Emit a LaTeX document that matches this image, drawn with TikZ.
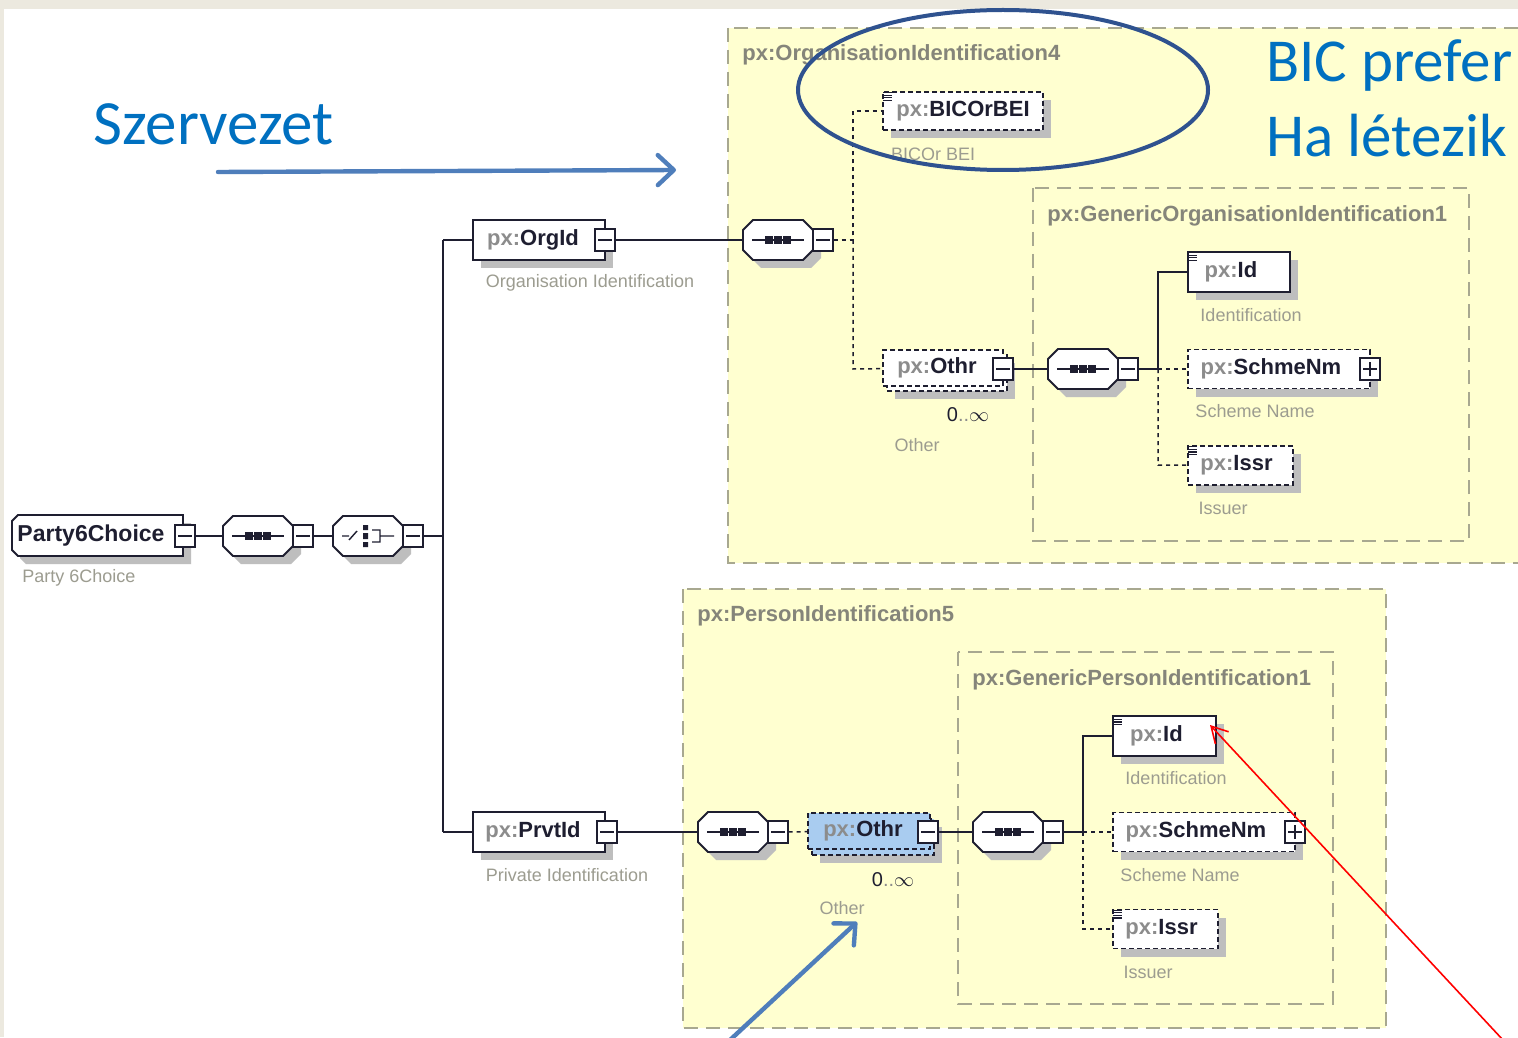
\documentclass[tikz,border=0pt]{standalone}
\usepackage{fontspec}
\setmainfont{Liberation Sans}
\newfontfamily\calib{Carlito}
\usetikzlibrary{shadows,arrows.meta}
\definecolor{bgbeige}{HTML}{ECE9DF}
\definecolor{grpyellow}{HTML}{FFFFD0}
\definecolor{grpline}{HTML}{A8A890}
\definecolor{grptext}{HTML}{85857A}
\definecolor{pxgray}{HTML}{8C8C8C}
\definecolor{namedark}{HTML}{1E1E30}
\definecolor{descgray}{HTML}{9C9C90}
\definecolor{shadowgray}{HTML}{BEBEBE}
\definecolor{annoblue}{HTML}{0070C0}
\definecolor{arrowblue}{HTML}{4F7EBB}
\definecolor{ellblue}{HTML}{2F528F}
\definecolor{selblue}{HTML}{A9CCF0}
\newcommand\pxn[1]{{\color{pxgray}px:}{\color{namedark}#1}}
\newcommand\mult{{\color{namedark}0}{\color{pxgray}..}{\color{namedark}$\infty$}}
\tikzset{
 x=0.5pt,y=-0.5pt,
 sh/.style={drop shadow={shadow xshift=4pt,shadow yshift=-4pt,fill=shadowgray,opacity=1}},
 elem/.style={draw=namedark,line width=0.9pt,fill=white,rectangle,inner sep=0pt,
   minimum height=20pt,font=\fontsize{11}{13}\selectfont\bfseries},
 optelem/.style={elem,dash pattern=on 2.5pt off 1.5pt},
 seqbox/.style={rectangle,draw=none,minimum width=35pt,minimum height=20pt,inner sep=0pt},
 octline/.style={draw=namedark,line width=0.9pt,fill=white},
 mbox/.style={draw=namedark,fill=white,line width=0.7pt,minimum width=10pt,minimum height=11pt,inner sep=0pt,
   path picture={\draw[line width=0.6pt,namedark] ([xshift=-3.5pt]path picture bounding box.center) -- ([xshift=3.5pt]path picture bounding box.center);}},
 pbox/.style={mbox,
   path picture={\draw[line width=0.6pt,namedark] ([xshift=-3.5pt]path picture bounding box.center) -- ([xshift=3.5pt]path picture bounding box.center)
     ([yshift=-3.5pt]path picture bounding box.center) -- ([yshift=3.5pt]path picture bounding box.center);}},
 conn/.style={draw=namedark,line width=0.75pt},
 dconn/.style={draw=namedark,line width=0.75pt,dash pattern=on 2pt off 2pt},
 grp/.style={draw=grpline,fill=grpyellow,line width=0.7pt,dash pattern=on 7pt off 4pt},
 grplabel/.style={anchor=west,inner sep=0pt,text=grptext,font=\fontsize{11}{13}\selectfont\bfseries},
 desc/.style={inner sep=0pt,text=descgray,font=\fontsize{9}{11}\selectfont},
 multl/.style={inner sep=0pt,font=\fontsize{10}{12}\selectfont},
 anno/.style={anchor=base west,inner sep=0pt,text=annoblue,font=\calib\fontsize{30.5}{36}\selectfont},
 bluearrow/.style={draw=arrowblue,line width=2.2pt,line cap=round,-{Straight Barb[length=8pt,width=15pt,line cap=round,line join=round]}},
}
\newcommand\octpath{(-35,-10) -- (-25,-20) -- (25,-20) -- (35,-10) -- (35,10) -- (25,20) -- (-25,20) -- (-35,10) -- cycle}
\newcommand\seqshape[3]{%
 \node[seqbox] (#1) at (#2,#3) {};
 \begin{scope}[shift={(#2,#3)}]
  \fill[shadowgray,shift={(8,8)}] \octpath;
  \path[octline] \octpath;
 \end{scope}}
\newcommand\seqicon[1]{%
 \draw[line width=0.7pt,namedark] ([xshift=-13pt]#1.center) -- ([xshift=13pt]#1.center);
 \foreach \dx in {-4.5,0,4.5} \fill[namedark] ([xshift=\dx pt]#1.center) +(-1.8pt,-1.8pt) rectangle +(1.8pt,1.8pt);
}
\newcommand\docicon[1]{%
 \draw[line width=0.6pt,namedark] ([xshift=0.5pt,yshift=-0.8pt]#1.north west) -- +(4.5pt,0pt)
   ([xshift=0.5pt,yshift=-2.1pt]#1.north west) -- +(4.5pt,0pt)
   ([xshift=0.5pt,yshift=-3.4pt]#1.north west) -- +(4.5pt,0pt)
   ([xshift=0.5pt,yshift=-4.7pt]#1.north west) -- +(4.5pt,0pt);
}
\begin{document}
\begin{tikzpicture}
\useasboundingbox (0,0) rectangle (1518,1037);
\fill[bgbeige] (0,0) rectangle (1518,1037);
\fill[white] (4,9) rectangle (1518,1037);

% group boxes
\draw[grp] (728,28) rectangle (1545,563);
\node[grplabel] (orggrpl) at (742,55) {px:OrganisationIdentification4};
\draw[grp] (1033,188) rectangle (1469,541);
\node[grplabel] (gorggrpl) at (1047,216) {px:GenericOrganisationIdentification1};
\draw[grp] (683,589) rectangle (1386,1028);
\node[grplabel] (prsgrpl) at (697,616) {px:PersonIdentification5};
\draw[grp] (958,652) rectangle (1333,1004);
\node[grplabel] (gprsgrpl) at (972,680) {px:GenericPersonIdentification1};

% root
\fill[shadowgray] (26,523) -- (191,523) -- (191,564) -- (26,564) -- (20,558) -- (20,529) -- cycle;
\path[octline] (18,515) -- (183,515) -- (183,556) -- (18,556) -- (12,550) -- (12,521) -- cycle;
\node[inner sep=0pt,font=\fontsize{11.5}{13}\selectfont\bfseries,text=namedark] (party) at (91,535.5) {Party6Choice};
\node[mbox] (party-m) at (185,536) {};
\node[desc,anchor=west] (partyl) at (22,578) {Party 6Choice};

\seqshape{s1}{258}{536}
\seqicon{s1}
\node[mbox] (s1-m) at (303,536) {};
\seqshape{ch}{368}{536}
\begin{scope}[shift={(ch.center)}]
 \draw[line width=0.7pt,namedark] (-26,0) -- (-19,0) (-19,4) -- (-11,-5) (4,-6) -- (12,-6) -- (12,6) -- (4,6) (12,0) -- (26,0);
 \fill[namedark] (-5,-11) rectangle (0,-6) (-5,-3) rectangle (0,3) (-5,6) rectangle (0,11);
\end{scope}
\node[mbox] (ch-m) at (413,536) {};
\draw[conn] (party-m) -- (s1);
\draw[conn] (s1-m) -- (ch);
\coordinate (jc) at (443,536);
\coordinate (jtop) at (443,240);
\coordinate (jbot) at (443,832);
\draw[conn] (ch-m) -- (jc);

% organisation branch
\node[elem,sh,minimum width=66pt] (orgid) at (539,240) {\hspace*{-6pt}\pxn{OrgId}};
\node[mbox] (orgid-m) at (605,240) {};
\node[desc] (orgidl) at (590,283) {Organisation Identification};
\draw[conn] (jtop) -- (jbot);
\draw[conn] (jtop) -- (orgid);
\seqshape{s2}{778}{240}
\seqicon{s2}
\node[mbox] (s2-m) at (823,240) {};
\draw[conn] (orgid-m) -- (s2);
\coordinate (j1) at (853,240);
\coordinate (j1t) at (853,111);
\coordinate (j1b) at (853,369);

\node[optelem,sh,minimum width=80pt,minimum height=19pt] (bic) at (963,111) {\pxn{BICOrBEI}};
\docicon{bic}
\node[desc] (bicl) at (933,154) {BICOr BEI};

\node[optelem,sh,minimum width=60pt,minimum height=18pt] (othr1b) at (947,373) {};
\node[optelem,minimum width=60pt,minimum height=18pt] (othr1) at (943,368) {\hspace*{-6pt}\pxn{Othr}};
\node[mbox] (othr1-m) at (1003,369) {};
\node[multl] (othr1mu) at (968,415) {\mult};
\node[desc] (othr1l) at (917,445) {Other};
\draw[dconn] (s2-m) -- (j1) -- (j1t) -- (bic);
\draw[dconn] (j1) -- (j1b) -- (othr1);

\seqshape{s3}{1083}{369}
\seqicon{s3}
\node[mbox] (s3-m) at (1128,369) {};
\draw[conn] (othr1-m) -- (s3);
\coordinate (j2) at (1158,369);
\coordinate (j2t) at (1158,272);
\coordinate (j2b) at (1158,465);

\node[elem,sh,minimum width=51pt] (id1) at (1239,272) {\pxn{Id}\hspace*{8pt}};
\docicon{id1}
\node[desc] (id1l) at (1251,315) {Identification};
\node[optelem,sh,minimum width=91pt,minimum height=19.5pt] (sch1) at (1279,369) {\hspace*{-8pt}\pxn{SchmeNm}};
\node[pbox] (sch1-p) at (1370,369) {};
\node[desc] (sch1l) at (1255,411) {Scheme Name};
\node[optelem,sh,minimum width=52.5pt,minimum height=19.5pt] (issr1) at (1240.5,465.5) {\pxn{Issr}\hspace*{4pt}};
\docicon{issr1}
\node[desc] (issr1l) at (1223,508) {Issuer};
\draw[conn] (s3-m) -- (j2) -- (j2t) -- (id1);
\draw[dconn] (j2) -- (sch1);
\draw[dconn] (j2) -- (j2b) -- (issr1);

% private branch
\node[elem,sh,minimum width=66pt] (prvt) at (539,832) {\hspace*{-6pt}\pxn{PrvtId}};
\node[mbox] (prvt-m) at (607,832) {};
\node[desc] (prvtl) at (567,875) {Private Identification};
\draw[conn] (jbot) -- (prvt);
\seqshape{s4}{733}{832}
\seqicon{s4}
\node[mbox] (s4-m) at (778,832) {};
\draw[conn] (prvt-m) -- (s4);

\node[optelem,sh,fill=selblue,minimum width=61pt,minimum height=18pt] (othr2b) at (873,837) {};
\node[optelem,fill=selblue,minimum width=61pt,minimum height=18pt] (othr2) at (869,831) {\hspace*{-6pt}\pxn{Othr}};
\node[mbox] (othr2-m) at (928,832) {};
\node[multl] (othr2mu) at (893,880) {\mult};
\node[desc] (othr2l) at (842,908) {Other};
\draw[dconn] (s4-m) -- (othr2);

\seqshape{s5}{1008}{832}
\seqicon{s5}
\node[mbox] (s5-m) at (1053,832) {};
\draw[conn] (othr2-m) -- (s5);
\coordinate (j3) at (1083,832);
\coordinate (j3t) at (1083,736);
\coordinate (j3b) at (1083,929);

\node[elem,sh,minimum width=51.5pt] (id2) at (1164.5,736) {\pxn{Id}\hspace*{8pt}};
\docicon{id2}
\node[desc] (id2l) at (1176,778) {Identification};
\node[optelem,sh,minimum width=91pt,minimum height=19.5pt] (sch2) at (1204,832) {\hspace*{-8pt}\pxn{SchmeNm}};
\node[pbox] (sch2-p) at (1295,832) {};
\node[desc] (sch2l) at (1180,875) {Scheme Name};
\node[optelem,sh,minimum width=52.5pt,minimum height=19.5pt] (issr2) at (1165.5,929) {\pxn{Issr}\hspace*{4pt}};
\docicon{issr2}
\node[desc] (issr2l) at (1148,972) {Issuer};
\draw[conn] (s5-m) -- (j3) -- (j3t) -- (id2);
\draw[dconn] (j3) -- (sch2);
\draw[dconn] (j3) -- (j3b) -- (issr2);

% annotations
\node[anno,font=\calib\fontsize{31.5}{36}\selectfont] (szerv) at (93,145) {Szervezet};
\coordinate (a1s) at (218,172);
\coordinate (a1e) at (676,170);
\draw[bluearrow] (a1s) -- (a1e);
\draw[ellblue,line width=2pt] (1003,90) ellipse [x radius=102.5pt,y radius=40pt];
\node[anno] (bic1) at (1266,82) {BIC prefer};
\node[anno] (bic2) at (1266,157) {Ha létezik};
\coordinate (a2s) at (730,1040);
\coordinate (a2e) at (857,922);
\draw[bluearrow] (a2s) -- (a2e);
\coordinate (a3s) at (1503,1040);
\coordinate (a3e) at (1210,725);
\draw[red,line width=0.8pt,-{Straight Barb[length=8pt,width=9pt]}] (a3s) -- (a3e);
\end{tikzpicture}
\end{document}
